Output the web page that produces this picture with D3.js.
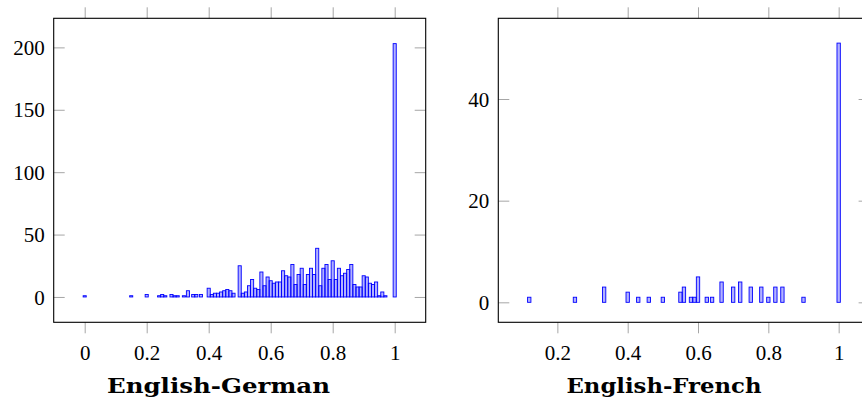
<!DOCTYPE html>
<html>
<head>
<meta charset="utf-8">
<script src="https://cdn.jsdelivr.net/npm/d3@7"></script>
<style>
  html, body { margin: 0; padding: 0; background: #fff; }
  svg { display: block; }
</style>
</head>
<body>
<svg id="chart" width="862" height="401"></svg>
<script>
// ---- Data ----
const deScores = [0, 0.15, 0.2, 0.24, 0.25, 0.26, 0.28, 0.29, 0.30, 0.32, 0.333, 0.35, 0.36, 0.375, 0.40, 0.41, 0.42, 0.43, 0.44, 0.45, 0.46, 0.47, 0.48, 0.50,
  0.51, 0.52, 0.53, 0.54, 0.55, 0.56, 0.57, 0.58, 0.59, 0.60, 0.61, 0.62, 0.63, 0.64, 0.65, 0.66, 0.67, 0.68, 0.69, 0.70,
  0.71, 0.72, 0.73, 0.74, 0.75, 0.76, 0.77, 0.78, 0.79, 0.80, 0.81, 0.82, 0.83, 0.84, 0.85, 0.86, 0.87, 0.88, 0.89, 0.90,
  0.91, 0.92, 0.93, 0.94, 0.95, 0.96, 0.97, 1.0];
const deCounts = [1, 1, 2, 1, 2, 1, 2, 1, 1, 1, 5, 2, 2, 2, 7, 2, 3, 3, 4, 5, 6, 5, 3, 25,
  3, 4, 9, 14, 7, 6, 20, 9, 16, 13, 11, 12, 12, 21, 17, 16, 26, 10, 18, 23,
  10, 18, 23, 18, 39, 9, 23, 26, 14, 29, 14, 23, 17, 19, 22, 26, 10, 8, 8, 17,
  16, 11, 10, 12, 1, 4, 1, 203];

const frScores = [0.12, 0.25, 0.333, 0.40, 0.43, 0.46, 0.50, 0.55, 0.56, 0.58, 0.59, 0.60, 0.625, 0.64, 0.667, 0.70, 0.72, 0.75, 0.78, 0.80, 0.82, 0.84, 0.90, 1.0];
const frCounts = [1, 1, 3, 2, 1, 1, 1, 2, 3, 1, 1, 5, 1, 1, 4, 3, 4, 3, 3, 1, 3, 3, 1, 51];

const deXTicks = [0, 0.2, 0.4, 0.6, 0.8, 1];
const deYTicks = [0, 50, 100, 150, 200];
const frXTicks = [0.2, 0.4, 0.6, 0.8, 1];
const frYTicks = [0, 20, 40];

const titles = ["English-German", "English-French"];

// ---- Drawing ----
const svg = d3.select("#chart");
const FONT = "'Liberation Serif', 'Times New Roman', serif";
const TICK_COLOR = "#a6a6a6";
const TICK_LEN = 11;

function panel(cfg) {
  const x = d3.scaleLinear().domain(cfg.xDomain).range(cfg.xRange);
  const y = d3.scaleLinear().domain(cfg.yDomain).range(cfg.yRange);
  const g = svg.append("g");
  const [x0, x1] = cfg.xRange;
  const [yb, yt] = cfg.yRange;
  const bw = x(cfg.binWidth) - x(0);

  // bars
  const data = cfg.scores.map((s, i) => ({ s, c: cfg.counts[i] }));
  g.append("g").selectAll("rect").data(data).join("rect")
    .attr("x", d => x(d.s) - bw / 2)
    .attr("y", d => y(d.c))
    .attr("width", bw)
    .attr("height", d => y(0) - y(d.c))
    .attr("fill", "rgba(0,0,255,0.3)")
    .attr("stroke", "#0000ff")
    .attr("stroke-width", 0.9);

  // axes: bottom (outward ticks with labels)
  const bottom = g.append("g").attr("transform", `translate(0,${yb})`)
    .call(d3.axisBottom(x).tickValues(cfg.xTicks).tickSize(TICK_LEN).tickPadding(7)
      .tickFormat(d => d3.format("~g")(d)));
  // top (outward ticks no labels)
  const top = g.append("g").attr("transform", `translate(0,${yt})`)
    .call(d3.axisTop(x).tickValues(cfg.xTicks).tickSize(TICK_LEN).tickFormat(""));
  // left (inward ticks, labels outside)
  const left = g.append("g").attr("transform", `translate(${x0},0)`)
    .call(d3.axisLeft(y).tickValues(cfg.yTicks).tickSize(-TICK_LEN).tickPadding(9));
  // right (inward ticks, no labels)
  const right = g.append("g").attr("transform", `translate(${x1},0)`)
    .call(d3.axisRight(y).tickValues(cfg.yTicks).tickSize(-TICK_LEN).tickFormat(""));

  [bottom, top, left, right].forEach(a => {
    a.select(".domain").remove();
    a.selectAll(".tick line").attr("stroke", TICK_COLOR).attr("stroke-width", 1);
    a.selectAll(".tick text").attr("fill", "#000")
      .style("font-family", FONT).style("font-size", "21px");
  });
  bottom.selectAll(".tick text").attr("dy", "0.95em");
  left.selectAll(".tick text").attr("dy", "0.34em");

  // frame
  g.append("rect")
    .attr("x", x0).attr("y", yt)
    .attr("width", x1 - x0).attr("height", yb - yt)
    .attr("fill", "none").attr("stroke", "#000").attr("stroke-width", 1.1);

  // caption
  g.append("text")
    .attr("x", cfg.captionX).attr("y", 393)
    .attr("text-anchor", "middle")
    .attr("textLength", cfg.captionW)
    .attr("lengthAdjust", "spacingAndGlyphs")
    .style("font-family", "'DejaVu Serif', serif")
    .style("font-weight", "bold")
    .style("font-size", "20px")
    .attr("fill", "#000")
    .text(cfg.title);
}

panel({
  scores: deScores, counts: deCounts, binWidth: 0.01,
  xDomain: [-0.1, 1.1], xRange: [53.7, 425.7],
  yDomain: [-20.3, 223.3], yRange: [322.3, 18.3],
  xTicks: deXTicks, yTicks: deYTicks,
  title: titles[0], captionX: 218.5, captionW: 223
});

panel({
  scores: frScores, counts: frCounts, binWidth: 0.0095,
  xDomain: [0.032, 1.088], xRange: [498.3, 869.6],
  yDomain: [-3.93, 55.88], yRange: [322.3, 18.3],
  xTicks: frXTicks, yTicks: frYTicks,
  title: titles[1], captionX: 664, captionW: 195
});
</script>
</body>
</html>
